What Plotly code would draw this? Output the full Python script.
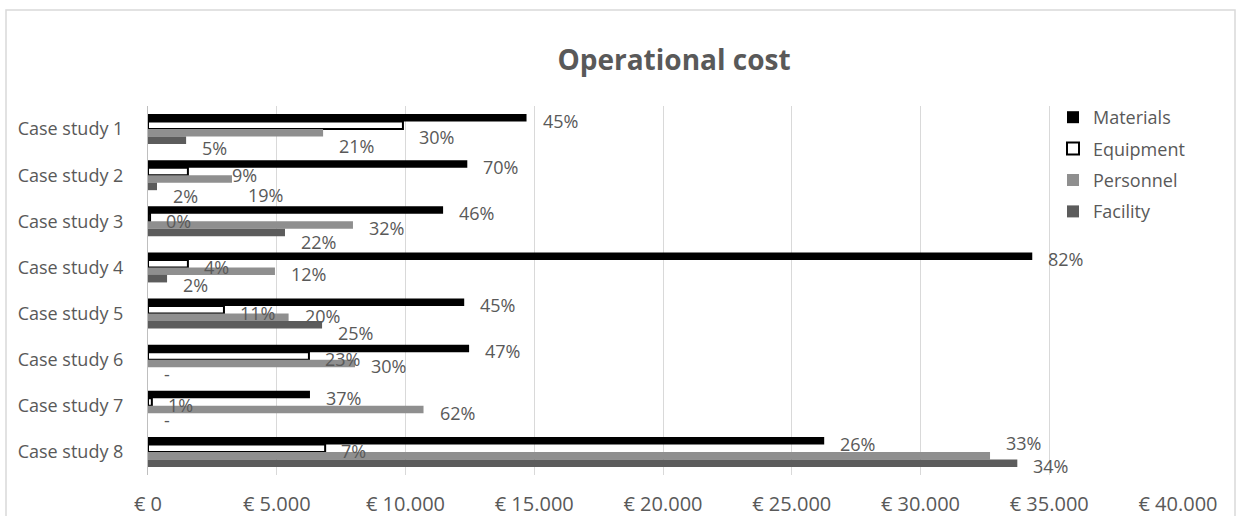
import plotly.graph_objects as go

categories = ["Case study 1", "Case study 2", "Case study 3", "Case study 4",
              "Case study 5", "Case study 6", "Case study 7", "Case study 8"]

materials = [14700, 12400, 11460, 34340, 12280, 12470, 6290, 26260]
equipment = [9900, 1550, 80, 1550, 2950, 6250, 150, 6880]
personnel = [6800, 3260, 7960, 4930, 5460, 8040, 10700, 32700]
facility = [1480, 350, 5320, 740, 6760, 0, 0, 33760]

materials_pct = ["45%", "70%", "46%", "82%", "45%", "47%", "37%", "26%"]
equipment_pct = ["30%", "9%", "0%", "4%", "11%", "23%", "1%", "7%"]
personnel_pct = ["21%", "19%", "32%", "12%", "20%", "30%", "62%", "33%"]
facility_pct = ["5%", "2%", "22%", "2%", "25%", "-", "-", "34%"]

tick_vals = [0, 5000, 10000, 15000, 20000, 25000, 30000, 35000, 40000]
tick_text = ["€ 0", "€ 5.000", "€ 10.000", "€ 15.000", "€ 20.000",
             "€ 25.000", "€ 30.000", "€ 35.000", "€ 40.000"]

FONT = "Open Sans, Noto Sans, sans-serif"
GREY_TXT = "#595959"

series = [
    ("Materials", materials, materials_pct, "#000000", "#000000", 0),
    ("Equipment", equipment, equipment_pct, "#ffffff", "#000000", 2),
    ("Personnel", personnel, personnel_pct, "#8f8f8f", "#8f8f8f", 0),
    ("Facility", facility, facility_pct, "#5c5c5c", "#5c5c5c", 0),
]

# hand-placed label nudges (pixels: right, down), styling only
label_nudge = {
    ("Equipment", "Case study 1"): (0, 9),
    ("Personnel", "Case study 1"): (0, 10),
    ("Facility", "Case study 1"): (0, 5),
    ("Equipment", "Case study 2"): (28, 1),
    ("Personnel", "Case study 2"): (0, 13),
    ("Facility", "Case study 2"): (0, 7),
    ("Facility", "Case study 3"): (0, 6),
    ("Facility", "Case study 4"): (0, 3),
    ("Personnel", "Case study 5"): (0, -4),
    ("Facility", "Case study 5"): (0, 5),
    ("Personnel", "Case study 8"): (0, -16),
}

W, H = 1236, 516
ML, MR, MT, MB = 148, 58, 106, 41
plot_w = W - ML - MR
plot_h = H - MT - MB
BARGAP = 0.35
band_px = plot_h / len(categories)
bar_px = band_px * (1 - BARGAP) / len(series)

fig = go.Figure()
annotations = []
for i, (name, vals, labels, fill, line, lw) in enumerate(series):
    fig.add_trace(go.Bar(
        y=categories, x=vals, name=name, orientation="h",
        marker=dict(color=fill, line=dict(color=line, width=lw)),
        legendgroup=name, hoverinfo="skip",
    ))
    offset = (i - (len(series) - 1) / 2) * bar_px
    for cat, v, lab in zip(categories, vals, labels):
        dx, dy = label_nudge.get((name, cat), (0, 0))
        annotations.append(dict(
            x=v, y=cat, xref="x", yref="y", text=lab, showarrow=False,
            xanchor="left", yanchor="middle", xshift=14 + dx,
            yshift=-(offset + 3 + dy),
            font=dict(family=FONT, size=18, color=GREY_TXT),
        ))

def px_x(p):
    return (p - ML) / plot_w

def px_y(p):
    return (H - MB - p) / plot_h

shapes = [dict(type="rect", xref="paper", yref="paper",
               x0=px_x(6), x1=px_x(1235), y0=px_y(530), y1=px_y(10),
               line=dict(color="#d9d9d9", width=1.5), fillcolor="rgba(0,0,0,0)",
               layer="below")]

fig.update_layout(
    width=W, height=H,
    margin=dict(l=ML, r=MR, t=MT, b=MB, autoexpand=False),
    paper_bgcolor="white", plot_bgcolor="white",
    barmode="group", bargap=BARGAP, bargroupgap=0,
    title=dict(text="<b>Operational cost</b>", x=674 / W, xref="container",
               xanchor="center", y=1 - 60 / H, yref="container", yanchor="middle",
               font=dict(family=FONT, size=28, color=GREY_TXT)),
    font=dict(family=FONT, color=GREY_TXT),
    legend=dict(x=1053 / W, xref="container", xanchor="left",
                y=1 - 99 / H, yref="container", yanchor="top",
                bgcolor="white", font=dict(family=FONT, size=18, color=GREY_TXT),
                traceorder="grouped", tracegroupgap=5),
    xaxis=dict(range=[0, 40000], tickvals=tick_vals, ticktext=tick_text,
               showgrid=True, gridcolor="#d9d9d9", gridwidth=1, zeroline=False,
               showline=False, ticks="", automargin=False, ticklabelstandoff=15,
               tickfont=dict(family=FONT, size=20, color=GREY_TXT), fixedrange=True),
    yaxis=dict(type="category", range=[len(categories) - 0.5, -0.5], autorange=False,
               showline=True, linecolor="#bfbfbf", linewidth=1,
               showgrid=False, ticks="", automargin=False, ticklabelstandoff=20,
               tickfont=dict(family=FONT, size=18, color=GREY_TXT), fixedrange=True),
    annotations=annotations,
    shapes=shapes,
)

fig.write_html(
    "out.html",
    config={"displayModeBar": False},
    post_script="document.body.style.margin='0';document.body.style.overflow='hidden';",
)
